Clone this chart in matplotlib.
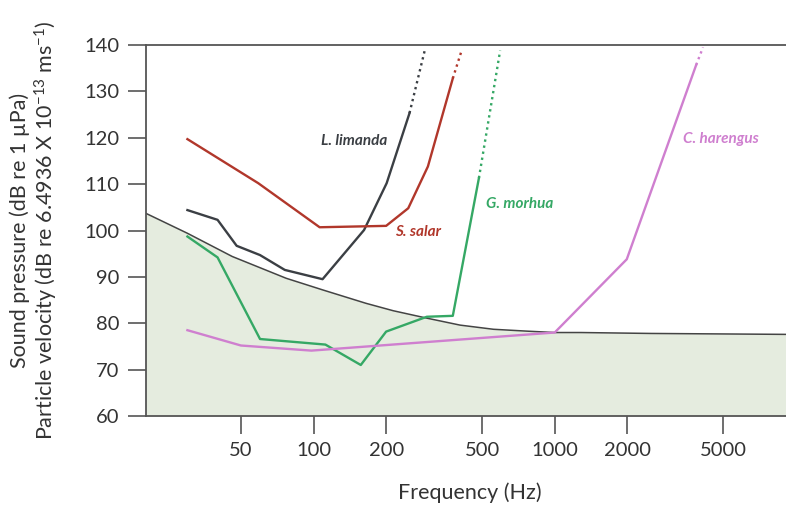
import matplotlib.pyplot as plt

plt.rcParams['font.family'] = ['Lato', 'DejaVu Sans']
plt.rcParams['mathtext.fontset'] = 'custom'
plt.rcParams['mathtext.rm'] = 'Lato'
plt.rcParams['mathtext.it'] = 'Lato:italic'

# ambient / threshold curve (shaded below)
thr_freq = [20, 30, 46, 77, 109, 165, 214, 295, 405, 557, 766, 1000, 1280, 2500, 9100]
thr_db = [103.8, 99.4, 94.4, 89.7, 87.2, 84.3, 82.7, 81.1, 79.6, 78.7, 78.3, 78.0, 78.0, 77.8, 77.6]

# audiograms: solid part + dotted extrapolation
lim_freq = [30, 40, 48, 60, 76, 109, 162, 201, 250]
lim_db = [104.4, 102.3, 96.7, 94.7, 91.5, 89.5, 100.1, 110.2, 125.3]
lim_ext_freq = [250, 290]
lim_ext_db = [125.3, 139.1]

sal_freq = [30, 59, 106, 200, 247, 298, 378]
sal_db = [119.7, 110.2, 100.7, 101, 104.8, 113.8, 132.8]
sal_ext_freq = [378, 410]
sal_ext_db = [132.8, 138.6]

mor_freq = [30, 40, 60, 112, 157, 200, 295, 378, 485]
mor_db = [98.7, 94.2, 76.6, 75.4, 71.0, 78.2, 81.4, 81.6, 111.3]
mor_ext_freq = [485, 594]
mor_ext_db = [111.3, 138.8]

har_freq = [30, 50, 98, 1000, 1990, 3860]
har_db = [78.5, 75.2, 74.1, 78.0, 93.8, 135.7]
har_ext_freq = [3860, 4120]
har_ext_db = [135.7, 139.5]

xticks = [50, 100, 200, 500, 1000, 2000, 5000]
yticks = [60, 70, 80, 90, 100, 110, 120, 130, 140]

c_lim = '#3b3f44'
c_sal = '#b1372b'
c_mor = '#35a865'
c_har = '#cf7fcf'
c_axis = '#555555'
c_text = '#333333'

fig = plt.figure(figsize=(7.86, 5.05), dpi=100)
ax = fig.add_axes([146 / 786, 89 / 505, 640 / 786, 371 / 505])

ax.fill_between(thr_freq, 60, thr_db, color='#e5ecdf', lw=0)
ax.plot(thr_freq, thr_db, color='#444444', lw=1.1)

for f, d, ef, ed, c in [
    (lim_freq, lim_db, lim_ext_freq, lim_ext_db, c_lim),
    (sal_freq, sal_db, sal_ext_freq, sal_ext_db, c_sal),
    (mor_freq, mor_db, mor_ext_freq, mor_ext_db, c_mor),
    (har_freq, har_db, har_ext_freq, har_ext_db, c_har),
]:
    ax.plot(f, d, color=c, lw=1.7)
    ax.plot(ef, ed, color=c, lw=1.7, linestyle=(0, (1, 1.6)))

lab = dict(fontsize=11, style='italic', weight='bold', ha='center', va='center')
ax.text(147, 119.3, 'L. limanda', color=c_lim, **lab)
ax.text(272, 99.7, 'S. salar', color=c_sal, **lab)
ax.text(719, 105.7, 'G. morhua', color=c_mor, **lab)
ax.text(4908, 119.7, 'C. harengus', color=c_har, **lab)

ax.set_xscale('log')
ax.set_xlim(20.2, 9100)
ax.set_ylim(60, 140)
ax.set_xticks(xticks)
ax.set_xticklabels([str(t) for t in xticks])
ax.xaxis.set_minor_locator(plt.NullLocator())
ax.set_yticks(yticks)

for s in ['left', 'bottom', 'top']:
    ax.spines[s].set_color(c_axis)
    ax.spines[s].set_linewidth(1.3)
ax.spines['right'].set_visible(False)
ax.tick_params(direction='out', length=13, width=1.2, color=c_axis,
               labelsize=14.5, labelcolor=c_text, pad=6)

fig.text(470 / 786, 1 - 493 / 505, 'Frequency (Hz)', ha='center', va='center',
         fontsize=15.5, color=c_text)
fig.text(20 / 786, 1 - 230 / 505, 'Sound pressure (dB re 1 µPa)', rotation=90,
         ha='center', va='center', fontsize=15.5, color=c_text)
fig.text(46 / 786, 1 - 230 / 505,
         'Particle velocity (dB re 6.4936 X 10$^{-13}$ ms$^{-1}$)', rotation=90,
         ha='center', va='center', fontsize=15.5, color=c_text)

fig.savefig('out.png', dpi=100)
